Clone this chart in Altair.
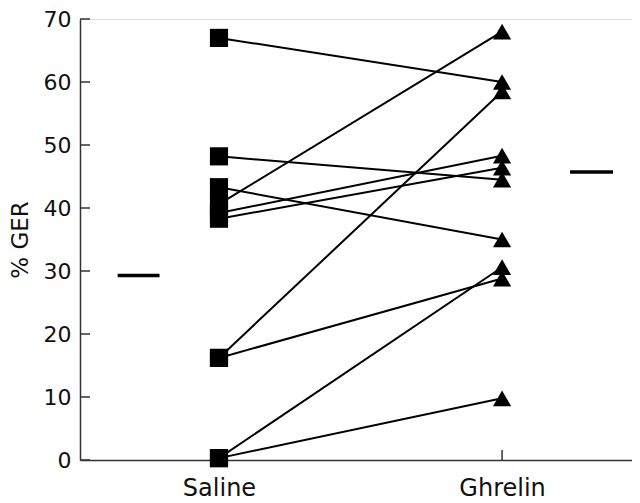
import altair as alt
import pandas as pd

groups = ["Saline", "Ghrelin"]
saline = [67.0, 48.2, 43.3, 40.6, 39.2, 38.3, 16.2, 16.2, 0.3, 0.3]
ghrelin = [60.0, 44.5, 35.0, 68.0, 48.3, 46.4, 58.5, 28.8, 30.6, 9.8]
group_means = [29.3, 45.7]
y_ticks = [0, 10, 20, 30, 40, 50, 60, 70]

FONT = "DejaVu Sans"

rows = []
for i, (s, g) in enumerate(zip(saline, ghrelin)):
    rows.append({"id": i, "group": "Saline", "pos": 1, "value": s})
    rows.append({"id": i, "group": "Ghrelin", "pos": 2, "value": g})
df = pd.DataFrame(rows)

mean_df = pd.DataFrame({
    "group": groups,
    "x": [1 - 0.284 - 0.074, 2 + 0.316 - 0.076],
    "x2": [1 - 0.284 + 0.074, 2 + 0.316 + 0.076],
    "mean": group_means,
})

xscale = alt.Scale(domain=[0.509, 2.459], nice=False, zero=False)
yscale = alt.Scale(domain=[0, 70], nice=False)

base_x = alt.X("pos:Q", scale=xscale,
               axis=alt.Axis(values=[1, 2], title=None, grid=False, ticks=False,
                             labelExpr="datum.value == 1 ? 'Saline' : 'Ghrelin'",
                             labelFont=FONT, labelFontSize=24, labelColor="#111",
                             labelPadding=16, domainColor="#333", domainWidth=1.5))
base_y = alt.Y("value:Q", scale=yscale,
               axis=alt.Axis(values=y_ticks, title="% GER", grid=False, ticks=False,
                             labelFont=FONT, labelFontSize=22, labelColor="#111",
                             labelPadding=9, titleFont=FONT, titleFontSize=23,
                             titleFontWeight="normal", titleColor="#111",
                             titlePadding=11, domainColor="#333", domainWidth=1.5))

lines = alt.Chart(df).mark_line(color="black", strokeWidth=2).encode(
    x=base_x, y=base_y, detail="id:N", order="pos:Q")

points = alt.Chart(df).mark_point(filled=True, color="black", opacity=1, size=330).encode(
    x="pos:Q", y="value:Q",
    shape=alt.Shape("group:N", scale=alt.Scale(domain=groups, range=["square", "triangle-up"]),
                    legend=None))

means = alt.Chart(mean_df).mark_rule(color="black", strokeWidth=3.5).encode(
    x="x:Q", x2="x2:Q", y="mean:Q")

ytick_df = pd.DataFrame({"t": y_ticks})
yticks = alt.Chart(ytick_df).mark_rule(color="#333", strokeWidth=1.5).encode(
    y="t:Q", x=alt.value(0), x2=alt.value(10))

xtick_df = pd.DataFrame({"p": [1, 2]})
xticks = alt.Chart(xtick_df).mark_rule(color="#333", strokeWidth=1.5).encode(
    x="p:Q", y=alt.value(441), y2=alt.value(431))

chart = alt.layer(yticks, xticks, lines, means, points).properties(
    width=552, height=441,
    autosize=alt.AutoSizeParams(type="none"),
    padding={"left": 72, "top": 11, "right": 0, "bottom": 44},
).configure_view(stroke=None).configure(background="white")

chart.save("out.html", embed_options={"renderer": "svg", "actions": False})
